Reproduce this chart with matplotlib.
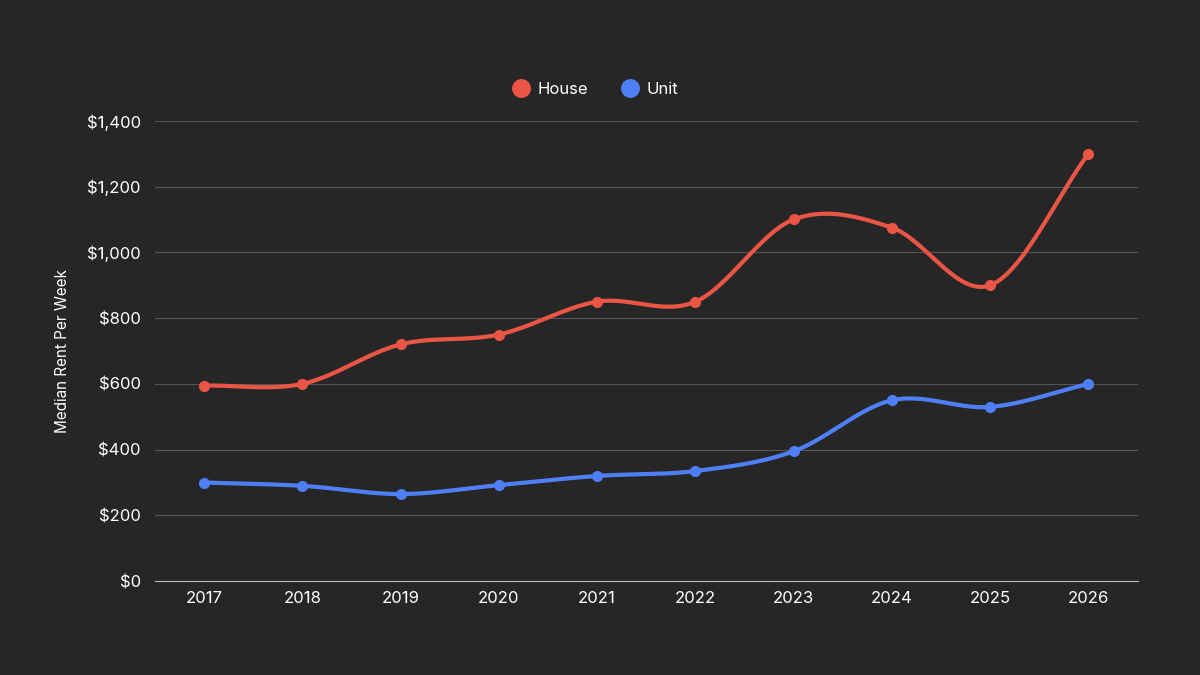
import numpy as np
import matplotlib
matplotlib.use('agg')
import matplotlib.pyplot as plt
from matplotlib.ticker import FuncFormatter

years = ['2017', '2018', '2019', '2020', '2021', '2022', '2023', '2024', '2025', '2026']
house = [595, 600, 720, 750, 850, 850, 1100, 1075, 900, 1300]
unit = [300, 290, 265, 292, 320, 335, 395, 550, 530, 600]

plt.rcParams['font.family'] = ['Inter', 'DejaVu Sans']
bg = '#262626'


def smooth(y, n=30):
    # catmull-rom through the points
    y = np.asarray(y, float)
    x = np.arange(len(y), dtype=float)
    p = np.concatenate([[2 * y[0] - y[1]], y, [2 * y[-1] - y[-2]]])
    xs, ys = [], []
    t = np.linspace(0, 1, n, endpoint=False)
    for i in range(len(y) - 1):
        p0, p1, p2, p3 = p[i], p[i + 1], p[i + 2], p[i + 3]
        m1 = (p2 - p0) / 2
        m2 = (p3 - p1) / 2
        h = (2*t**3 - 3*t**2 + 1) * p1 + (t**3 - 2*t**2 + t) * m1 \
            + (-2*t**3 + 3*t**2) * p2 + (t**3 - t**2) * m2
        xs.extend(x[i] + t)
        ys.extend(h)
    xs.append(x[-1])
    ys.append(y[-1])
    return xs, ys


fig = plt.figure(figsize=(12, 6.75), dpi=100, facecolor=bg)
ax = fig.add_axes([0.129, 0.139, 0.819, 0.682], facecolor=bg)

for vals, col, lab in [(house, '#ea5545', 'House'), (unit, '#4f7ff5', 'Unit')]:
    sx, sy = smooth(vals)
    ax.plot(sx, sy, color=col, lw=3, solid_capstyle='round')
    ax.plot(range(len(vals)), vals, 'o', color=col, ms=7, label=lab)

ax.set_xlim(-0.5, len(years) - 0.5)
ax.set_ylim(0, 1400)
ax.set_yticks(range(0, 1401, 200))
ax.yaxis.set_major_formatter(FuncFormatter(lambda v, p: '${:,.0f}'.format(v)))
ax.set_xticks(range(len(years)))
ax.set_xticklabels(years)
ax.grid(axis='y', color='#555555', lw=0.8)
ax.set_axisbelow(True)
for s in ['top', 'right', 'left']:
    ax.spines[s].set_visible(False)
ax.spines['bottom'].set_color('#bbbbbb')
ax.tick_params(colors='white', labelsize=12, length=0)
ax.tick_params(axis='x', pad=7)
ax.tick_params(axis='y', pad=10)
ax.set_ylabel('Median Rent Per Week', color='white', fontsize=11, labelpad=12)

leg = fig.legend(*ax.get_legend_handles_labels(), loc='center', bbox_to_anchor=(0.496, 0.868),
                 ncol=2, frameon=False, fontsize=12, markerscale=1.8, handlelength=1,
                 columnspacing=2, handletextpad=0.5)
for t in leg.get_texts():
    t.set_color('white')

plt.savefig('out.png', facecolor=bg)
plt.close()
